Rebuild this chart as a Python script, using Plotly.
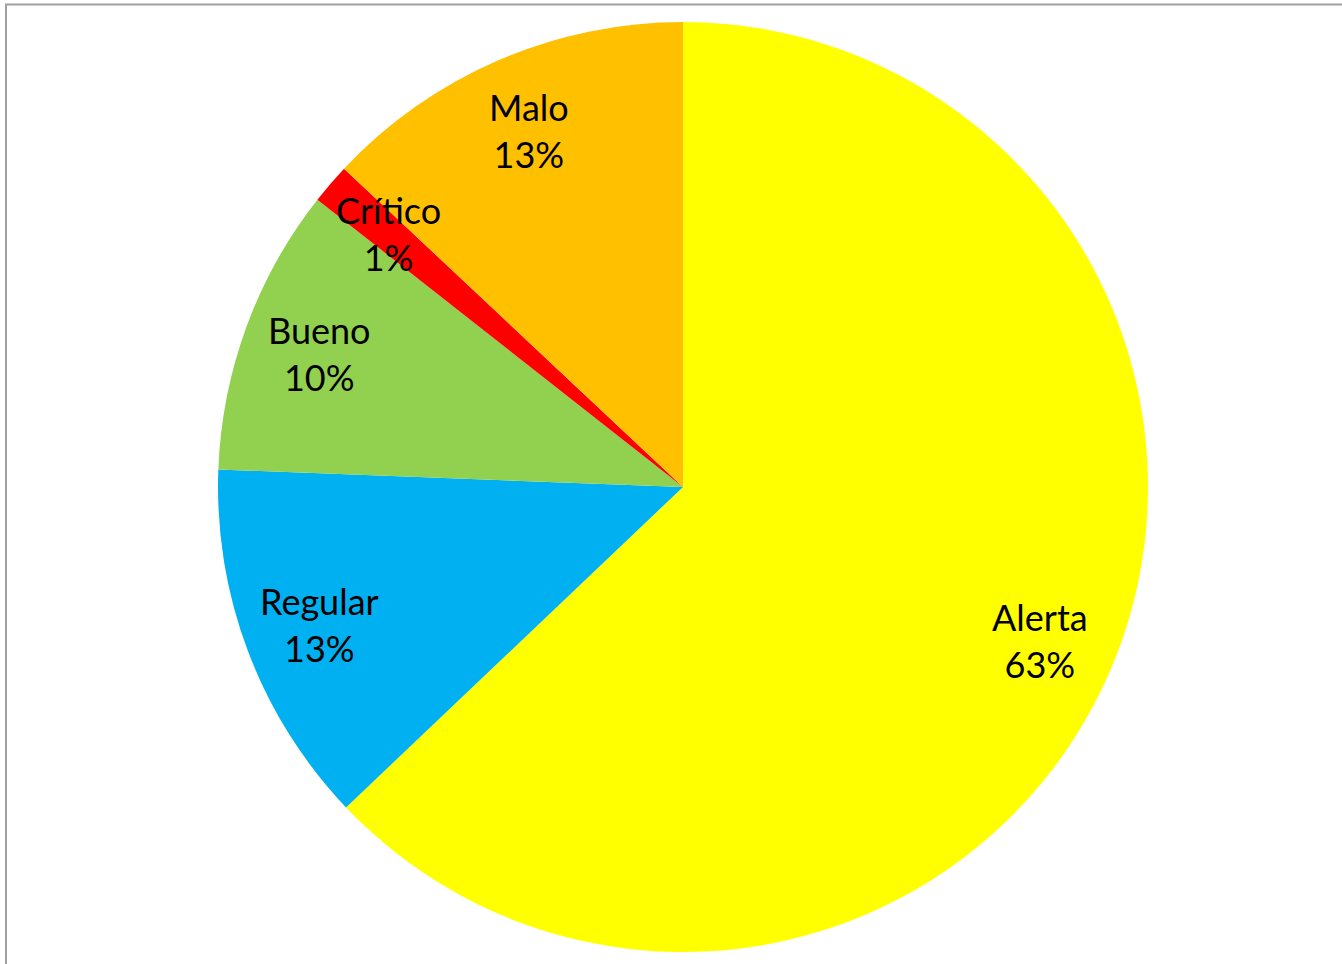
import math
import plotly.graph_objects as go

# Category shares (percent of total)
labels = ["Alerta", "Regular", "Bueno", "Crítico", "Malo"]
values = [62.9, 12.7, 10.0, 1.4, 13.0]
colors = ["#FFFF00", "#00B0F0", "#92D050", "#FF0000", "#FFC000"]

W, H = 1342, 964
M_L, M_R, M_T, M_B = 218, 194, 22, 12
FONT = "Lato"
LABEL_RADIUS = 0.835  # label distance from centre, as a fraction of the pie radius

fig = go.Figure(
    go.Pie(
        labels=labels,
        values=values,
        marker=dict(colors=colors, line=dict(width=0)),
        sort=False,
        direction="clockwise",
        rotation=0,
        textinfo="none",
        hoverinfo="label+percent",
        showlegend=False,
    )
)

# Data labels placed at each slice's mid-angle
total = sum(values)
cum = 0.0
annotations = []
for lab, v in zip(labels, values):
    mid = (cum + v / 2) / total * 2 * math.pi
    cum += v
    x = 0.5 + 0.5 * LABEL_RADIUS * math.sin(mid)
    y = 0.5 + 0.5 * LABEL_RADIUS * math.cos(mid)
    annotations.append(
        dict(
            x=x, y=y, xref="paper", yref="paper",
            text=f"{lab}<br>{v / total:.0%}",
            showarrow=False,
            font=dict(family=FONT, size=36, color="#000000"),
            align="center",
            xanchor="center", yanchor="middle",
        )
    )

plot_w = W - M_L - M_R
plot_h = H - M_T - M_B
# Chart-area frame (extends past the right and bottom edges)
frame = dict(
    type="rect", xref="paper", yref="paper",
    x0=(6 - M_L) / plot_w, x1=1.5,
    y0=-0.5, y1=(H - M_B - 4.5) / plot_h,
    line=dict(color="#A0A0A0", width=2),
    fillcolor="rgba(0,0,0,0)",
    layer="below",
)

fig.update_layout(
    width=W, height=H,
    margin=dict(l=M_L, r=M_R, t=M_T, b=M_B, pad=0),
    paper_bgcolor="white",
    plot_bgcolor="white",
    annotations=annotations,
    shapes=[frame],
    font=dict(family=FONT),
)

fig.write_html("out.html")
